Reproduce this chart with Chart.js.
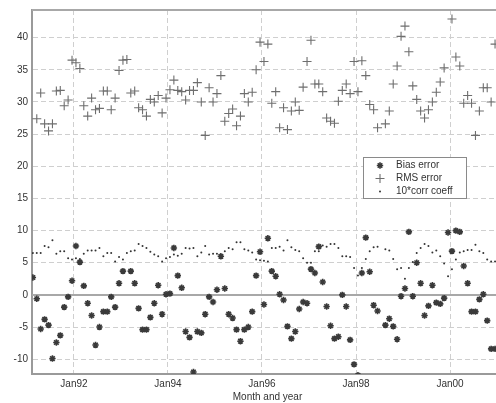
<!DOCTYPE html>
<html>
<head>
<meta charset="utf-8">
<script src="https://cdn.jsdelivr.net/npm/chart.js@4.4.1/dist/chart.umd.min.js"></script>
<style>
  html, body { margin: 0; padding: 0; background: #fff; overflow: hidden; }
  #wrap { width: 510px; height: 403px; }
</style>
</head>
<body>
<div id="wrap"><canvas id="errChart" width="510" height="403"></canvas></div>
<script>
// months counted from Jan 1991 (0); first sample is Feb 1991
const firstMonth = 1;

const seriesLabels = ["Bias error", "RMS error", "10*corr coeff"];

const biasError = [
  2.7, -0.6, -5.3, -3.8, -4.7, -9.9, -7.4, -6.3, -1.9, -0.3,
  2.2, 7.6, 5.1, 1.4, -1.3, -3.2, -7.8, -5.0, -2.6, -2.6,
  -0.3, -1.9, 1.8, 3.7, null, 3.7, 1.8, -2.1, -5.4, -5.4,
  -3.5, -1.3, 1.5, -3.0, 0.1, 0.2, 7.3, 3.0, 1.1, -5.7,
  -6.6, -12.0, -5.7, -5.9, -3.0, -0.3, -1.1, 0.8, 6.0, 1.0,
  -3.0, -3.6, -5.4, -7.2, -5.4, -5.0, -2.6, 3.0, 6.7, -1.5,
  8.8, 3.7, 2.9, 0.1, -0.8, -4.9, -6.8, -5.7, -2.2, -1.1,
  -1.3, 4.0, 3.4, 7.5, 2.0, -1.8, -4.8, -6.8, -6.5, 0.0,
  -1.8, -7.0, -10.8, -12.5, 3.4, 8.9, 3.6, -1.6, -2.5, null,
  -4.7, -3.7, -4.9, -6.9, -0.2, 1.0, 9.8, -0.2, 5.0, 1.8,
  -3.2, -1.7, 1.5, -1.2, -1.4, -0.5, 9.7, 6.8, 10.0, 9.8,
  4.5, 1.8, -2.6, -2.6, -0.7, 0.1, -4.0, -8.4, -8.4
];

const rmsError = [
  null, 27.4, 31.4, 26.6, 25.5, 26.6, 31.7, 31.8, 29.4, 30.3,
  36.5, 36.1, 35.2, 29.4, 27.8, 30.6, 28.8, 29.0, 31.7, 31.7,
  28.8, 30.6, 34.9, 36.5, 36.6, 31.4, 31.7, 29.1, 28.8, 27.8,
  30.4, 30.0, 31.0, 28.3, 30.6, 31.9, 33.4, 31.8, 31.6, 30.3,
  31.8, 31.8, 33.0, 30.0, 24.8, 32.2, 30.0, 31.3, 34.1, 27.0,
  28.2, 28.9, 26.3, 27.8, 31.3, 30.0, 31.5, 35.0, 39.3, 36.3,
  39.0, 29.8, 31.6, 26.0, 29.1, 25.7, 28.6, 30.0, 28.7, 32.3,
  36.3, 39.6, 32.8, 32.8, 31.6, 27.5, 27.0, 26.7, 30.1, 31.8,
  32.8, 31.3, 36.3, 31.6, 36.4, 34.1, 29.6, 28.8, 26.0, null,
  26.6, 28.6, 32.8, 35.6, 40.2, 41.8, 37.8, 32.5, 30.4, 28.6,
  27.5, 28.8, 30.0, 31.5, 33.1, 35.3, null, 42.9, 37.0, 35.6,
  29.8, 31.0, 29.8, 24.8, 28.6, 32.2, 32.2, 30.0, 39.0
];

const corrCoeff10 = [
  6.5, 6.5, 6.5, 7.6, 7.4, 8.5, 6.4, 6.8, 6.8, 5.7,
  5.5, 5.7, 5.6, 6.4, 6.9, 6.9, 6.9, 7.3, 6.0, 6.5,
  6.5, 5.2, 5.9, 5.5, 6.5, 6.8, 6.9, 7.9, 7.6, 7.3,
  6.7, 6.3, 6.0, 5.2, 5.7, 5.9, 6.3, 6.1, 6.4, 7.3,
  7.2, 7.3, 6.0, 6.6, 7.6, 6.3, 6.4, 6.4, 6.2, 6.8,
  7.3, 7.1, 8.2, 8.2, 7.1, 6.9, 6.6, 5.5, 5.4, 5.3,
  5.2, 7.3, 7.3, 7.5, 6.9, 8.5, 7.4, 7.0, 6.8, 5.7,
  5.0, 5.0, 6.8, 6.8, 7.7, 7.5, 7.9, 7.9, 7.3, 6.0,
  6.0, 5.9, 4.2, 3.0, 4.2, 5.6, 6.8, 7.4, 7.5, null,
  7.1, 6.9, 5.6, 4.0, 4.2, 2.5, 4.2, 5.1, 6.5, 7.3,
  7.9, 7.6, 6.6, 6.9, 6.0, 4.9, 2.9, 4.0, 5.5, 6.6,
  6.8, 7.0, 7.0, 7.8, 6.8, 6.5, 5.5, 5.2, 5.2
];

const xTickMonths = [12, 36, 60, 84, 108];
const xTickLabels = ["Jan92", "Jan94", "Jan96", "Jan98", "Jan00"];
const yTicks = [-10, -5, 0, 5, 10, 15, 20, 25, 30, 35, 40];

// samples sit mid-month
const toPoints = (arr) => arr.map((v, i) => ({ x: firstMonth + i + 0.5, y: v }));

const fontFamily = '"Liberation Sans", Arial, sans-serif';

const frame = {
  id: "frame",
  beforeDatasetsDraw(chart) {
    const { ctx, chartArea, scales } = chart;
    const y0 = scales.y.getPixelForValue(0);
    ctx.save();
    ctx.strokeStyle = "#a8a8a8";
    ctx.lineWidth = 2;
    ctx.beginPath();
    ctx.moveTo(chartArea.left, y0);
    ctx.lineTo(chartArea.right, y0);
    ctx.moveTo(chartArea.left, chartArea.top);
    ctx.lineTo(chartArea.right, chartArea.top);
    ctx.lineTo(chartArea.right, chartArea.bottom);
    ctx.stroke();
    ctx.restore();
  }
};

const legendBox = {
  id: "legendBox",
  afterDatasetsDraw(chart) {
    const { ctx, chartArea } = chart;
    const x = chartArea.left + 331;
    const y = chartArea.top + 147;
    const w = 103;
    const h = 41;
    ctx.save();
    ctx.fillStyle = "#fff";
    ctx.fillRect(x, y, w, h);
    ctx.strokeStyle = "#8a8a8a";
    ctx.lineWidth = 1;
    ctx.strokeRect(x + 0.5, y + 0.5, w, h);
    chart.data.datasets.forEach((ds, i) => {
      const cy = y + 8.5 + i * 13;
      ctx.fillStyle = ds.backgroundColor;
      ctx.strokeStyle = ds.borderColor;
      ctx.lineWidth = ds.borderWidth;
      Chart.helpers.drawPoint(ctx, {
        pointStyle: ds.pointStyle,
        radius: ds.pointRadius,
        borderWidth: ds.borderWidth,
        rotation: 0
      }, x + 17, cy);
      ctx.fillStyle = "#333";
      ctx.font = "10px " + fontFamily;
      ctx.textBaseline = "middle";
      ctx.fillText(ds.label, x + 33, cy);
    });
    ctx.restore();
  }
};

new Chart(document.getElementById("errChart"), {
  type: "scatter",
  data: {
    datasets: [
      {
        label: seriesLabels[0],
        data: toPoints(biasError),
        pointStyle: "star",
        pointRadius: 3.2,
        borderWidth: 1.6,
        borderColor: "#3a3a3a",
        backgroundColor: "#3a3a3a"
      },
      {
        label: seriesLabels[1],
        data: toPoints(rmsError),
        pointStyle: "cross",
        pointRadius: 4.5,
        borderWidth: 1.1,
        borderColor: "#6e6e6e",
        backgroundColor: "#6e6e6e"
      },
      {
        label: seriesLabels[2],
        data: toPoints(corrCoeff10),
        pointStyle: "circle",
        pointRadius: 1,
        borderWidth: 0,
        borderColor: "#333",
        backgroundColor: "#333"
      }
    ]
  },
  options: {
    responsive: false,
    animation: false,
    devicePixelRatio: 1,
    layout: { padding: { top: 6, right: 7, left: 0, bottom: 0 } },
    plugins: {
      legend: { display: false },
      tooltip: { enabled: false }
    },
    scales: {
      x: {
        type: "linear",
        min: 1.28,
        max: 121.53,
        afterBuildTicks: (scale) => {
          scale.ticks = xTickMonths.map((v) => ({ value: v }));
        },
        afterFit: (scale) => { scale.height = 29; },
        ticks: {
          autoSkip: false,
          maxRotation: 0,
          padding: 4,
          color: "#333",
          font: { family: fontFamily, size: 10 },
          callback: (value) => xTickLabels[xTickMonths.indexOf(value)]
        },
        grid: { color: "#cfcfcf", lineWidth: 1, drawTicks: false },
        border: { color: "#9a9a9a", width: 2, dash: [5, 3] },
        title: {
          display: true,
          text: "Month and year",
          color: "#333",
          font: { family: fontFamily, size: 10 },
          padding: { top: 0, bottom: 0 }
        }
      },
      y: {
        min: -12.3,
        max: 44.3,
        afterBuildTicks: (scale) => {
          scale.ticks = yTicks.map((v) => ({ value: v }));
        },
        afterFit: (scale) => { scale.width = 32; },
        ticks: {
          padding: 4,
          color: "#333",
          font: { family: fontFamily, size: 10 }
        },
        grid: { color: "#cfcfcf", lineWidth: 1, drawTicks: false },
        border: { color: "#9a9a9a", width: 2, dash: [5, 3] }
      }
    }
  },
  plugins: [frame, legendBox]
});
</script>
</body>
</html>
